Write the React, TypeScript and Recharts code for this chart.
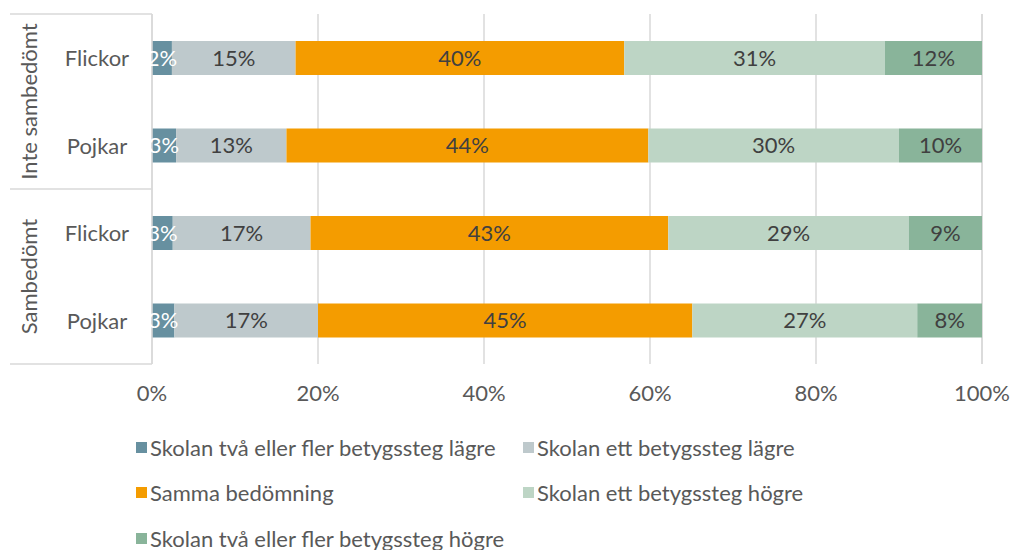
import React from 'react';
import { BarChart, Bar, XAxis, YAxis, CartesianGrid, LabelList } from 'recharts';

const categories = ['Flickor', 'Pojkar', 'Flickor', 'Pojkar'];
const groups = ['Inte sambedömt', 'Inte sambedömt', 'Sambedömt', 'Sambedömt'];
const seriesNames = [
  'Skolan två eller fler betygssteg lägre',
  'Skolan ett betygssteg lägre',
  'Samma bedömning',
  'Skolan ett betygssteg högre',
  'Skolan två eller fler betygssteg högre',
];
const twoLower = [2.4, 2.9, 2.5, 2.7];
const oneLower = [14.9, 13.3, 16.6, 17.3];
const same = [39.6, 43.6, 43.1, 45.1];
const oneHigher = [31.4, 30.2, 29.0, 27.1];
const twoHigher = [11.7, 10.0, 8.8, 7.8];
const xTicks = [0, 20, 40, 60, 80, 100];

const colors = ['#6790A0', '#BEC9CC', '#F49C00', '#BDD5C5', '#89B49A'];
const labelColors = ['#FFFFFF', '#404040', '#404040', '#404040', '#404040'];
const seriesKeys = ['s0', 's1', 's2', 's3', 's4'];
const seriesValues = [twoLower, oneLower, same, oneHigher, twoHigher];

const data = categories.map((c, i) => {
  const row: any = { key: `${groups[i]}|${c}|${i}`, cat: c, group: groups[i] };
  seriesKeys.forEach((k, j) => (row[k] = seriesValues[j][i]));
  return row;
});

const FONT = 'Lato, "Open Sans", sans-serif';
const FS = 22;
const W = 1012;
const H = 550;
const MARGIN = { top: 14, right: 30, bottom: 156, left: 0 };
const X_AXIS_H = 30;
const Y_AXIS_W = 152;
const PLOT_H = H - MARGIN.top - MARGIN.bottom - X_AXIS_H;
const BAND = PLOT_H / categories.length;

const YTick = (props: any) => {
  const { y, payload, index } = props;
  const i = index as number;
  const cat = String(payload.value).split('|')[1];
  const els: any[] = [];
  els.push(
    <text key="c" x={97} y={y} textAnchor="middle" dominantBaseline="central" fill="#595959" fontSize={FS} fontFamily={FONT}>
      {cat}
    </text>
  );
  if (i === 0 || i === 2) {
    els.push(
      <line key="lt" x1={10} x2={Y_AXIS_W} y1={y - BAND / 2} y2={y - BAND / 2} stroke="#D9D9D9" strokeWidth={1.5} />
    );
    const cy = y + BAND / 2;
    els.push(
      <text
        key="g"
        x={28}
        y={cy}
        textAnchor="middle"
        dominantBaseline="central"
        fill="#595959"
        fontSize={FS}
        fontFamily={FONT}
        transform={`rotate(-90 28 ${cy})`}
      >
        {groups[i]}
      </text>
    );
  }
  if (i === categories.length - 1) {
    els.push(
      <line key="lb" x1={10} x2={Y_AXIS_W} y1={y + BAND / 2} y2={y + BAND / 2} stroke="#D9D9D9" strokeWidth={1.5} />
    );
  }
  return <g>{els}</g>;
};

export default function App() {
  return (
    <div style={{ position: 'absolute', left: 0, top: 0, width: W, height: H, background: '#fff' }}>
      <BarChart width={W} height={H} data={data} layout="vertical" margin={MARGIN} barSize={34}>
        <CartesianGrid horizontal={false} stroke="#D9D9D9" strokeWidth={1.5} />
        <XAxis
          type="number"
          domain={[0, 100]}
          ticks={xTicks}
          height={X_AXIS_H}
          axisLine={false}
          tickLine={false}
          tickMargin={15}
          tickFormatter={(v: number) => `${v}%`}
          tick={{ fill: '#595959', fontSize: FS, fontFamily: FONT }}
        />
        <YAxis
          type="category"
          dataKey="key"
          width={Y_AXIS_W}
          axisLine={{ stroke: '#D9D9D9', strokeWidth: 1.5 }}
          tickLine={false}
          tick={<YTick />}
          interval={0}
        />
        {seriesKeys.map((k, j) => (
          <Bar key={k} dataKey={k} name={seriesNames[j]} stackId="a" fill={colors[j]} isAnimationActive={false}>
            <LabelList
              dataKey={k}
              position="center"
              formatter={(v: any) => `${Math.round(Number(v))}%`}
              style={{ fill: labelColors[j], fontSize: FS, fontFamily: FONT }}
            />
          </Bar>
        ))}
      </BarChart>
      <div style={{ position: 'absolute', left: 0, top: 0, width: W, height: H, pointerEvents: 'none' }}>
        {seriesNames.map((n, j) => {
          const col = j % 2;
          const row = Math.floor(j / 2);
          return (
            <div
              key={n}
              style={{
                position: 'absolute',
                left: col === 0 ? 136 : 523,
                top: 447 + row * 45.5 - 15,
                height: 30,
                display: 'flex',
                alignItems: 'center',
                fontFamily: FONT,
                fontSize: FS,
                color: '#595959',
                whiteSpace: 'nowrap',
              }}
            >
              <span style={{ display: 'inline-block', width: 11, height: 11, background: colors[j], marginRight: 3 }} />
              {n}
            </div>
          );
        })}
      </div>
    </div>
  );
}
